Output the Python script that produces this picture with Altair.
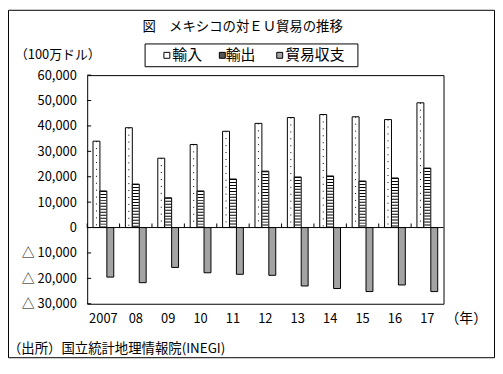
import altair as alt
import pandas as pd

# ---- data ----
years = ["2007", "08", "09", "10", "11", "12", "13", "14", "15", "16", "17"]
series = ["輸入", "輸出", "貿易収支"]
imports = [34000, 39300, 27300, 32700, 37900, 41000, 43300, 44500, 43600, 42500, 49100]
exports = [14400, 17100, 11700, 14400, 19100, 22200, 19900, 20300, 18300, 19500, 23400]
balance = [-19500, -21700, -15700, -17800, -18400, -18800, -23000, -24000, -25200, -22600, -25200]
y_ticks = [-30000, -20000, -10000, 0, 10000, 20000, 30000, 40000, 50000, 60000]

title_text = "図　メキシコの対ＥＵ貿易の推移"
unit_text = "（100万ドル）"
year_unit = "（年）"
source_text = "（出所）国立統計地理情報院(INEGI)"

rows = []
for i, yr in enumerate(years):
    for s, vals in zip(series, [imports, exports, balance]):
        rows.append({"year": yr, "series": s, "value": vals[i]})
df = pd.DataFrame(rows)

FONT = "Noto Sans CJK JP"
W, H = 360, 231

xaxis = alt.Axis(title=None, labelAngle=0, domain=False, ticks=False, labelPadding=9,
                 labelFontSize=13, labelFont=FONT, labelColor="black")
xscale = alt.Scale(domain=years, paddingInner=0, paddingOuter=0)
xenc = alt.X("year:N", scale=xscale, axis=xaxis)
xo = alt.XOffset("series:N", scale=alt.Scale(domain=series, paddingInner=0, paddingOuter=0.84))

yaxis = alt.Axis(title=None, values=y_ticks, ticks=False, domain=False, grid=False,
                 labelPadding=11, labelFontSize=13, labelFont=FONT, labelColor="black",
                 labelExpr="datum.value < 0 ? '△ ' + format(-datum.value, ',') : format(datum.value, ',')")
yscale = alt.Scale(domain=[-30000, 60000], nice=False, zero=False)
yenc = alt.Y("value:Q", scale=yscale, axis=yaxis)

bars = alt.Chart(df).mark_bar(stroke="black", strokeWidth=1).encode(
    x=xenc, xOffset=xo, y=yenc, y2=alt.datum(0),
    fill=alt.Fill("series:N", scale=alt.Scale(domain=series, range=["white", "white", "#a3a3a3"]), legend=None),
)

dots = alt.Chart(df[df.series == series[0]]).mark_rule(
    color="black", strokeWidth=1, strokeDash=[1, 6], strokeCap="butt"
).encode(x=xenc, xOffset=xo, y=yenc, y2=alt.datum(0))

stripes = alt.Chart(df[df.series == series[1]]).mark_rule(
    color="black", strokeWidth=6, strokeDash=[1, 2], strokeCap="butt"
).encode(x=xenc, xOffset=xo, y=yenc, y2=alt.datum(0))

zero_line = alt.Chart(pd.DataFrame({"value": [0]})).mark_rule(color="black", strokeWidth=1).encode(y=yenc)

ytick_marks = alt.Chart(pd.DataFrame({"value": y_ticks})).mark_rule(color="black").encode(
    y=yenc, x=alt.value(0), x2=alt.value(4))

cat_ticks = alt.Chart(pd.DataFrame({"year": years, "value": [0] * len(years), "top": [1600] * len(years)})).mark_rule(
    color="black").encode(
    x=alt.X("year:N", scale=xscale, axis=xaxis, bandPosition=0), y=yenc, y2=alt.Y2("top:Q"))

def label(text, x, y, size, align="left"):
    return alt.Chart(pd.DataFrame({"t": [text]})).mark_text(
        font=FONT, fontSize=size, align=align, baseline="middle", color="black"
    ).encode(x=alt.value(x), y=alt.value(y), text="t:N")

border = alt.Chart(pd.DataFrame({"t": [0]})).mark_rect(fillOpacity=0, stroke="black", strokeWidth=1).encode(
    x=alt.value(-79.5), x2=alt.value(411.5), y=alt.value(-65.5), y2=alt.value(285.5))

legend_box = alt.Chart(pd.DataFrame({"t": [0]})).mark_rect(fillOpacity=0, stroke="black", strokeWidth=1).encode(
    x=alt.value(58.5), x2=alt.value(273.5), y=alt.value(-31.5), y2=alt.value(-8.5))

def swatch(x, fill):
    return alt.Chart(pd.DataFrame({"t": [0]})).mark_rect(fill=fill, stroke="black", strokeWidth=1).encode(
        x=alt.value(x), x2=alt.value(x + 6), y=alt.value(-23), y2=alt.value(-17))

layers = [
    border, legend_box,
    swatch(77.5, "white"), swatch(133.5, "#555555"), swatch(191.5, "#a3a3a3"),
    label(series[0], 86, -20, 15), label(series[1], 140, -20, 15), label(series[2], 200, -20, 15),
    label(title_text, 157, -49, 13.5, "center"),
    label(unit_text, -73, -20, 13),
    label(year_unit, 362, 246, 14),
    label(source_text, -80, 277, 13.5),
    bars, dots, stripes, zero_line, ytick_marks, cat_ticks,
]

chart = alt.layer(*layers).properties(
    width=W, height=H,
    padding={"left": 80, "top": 66, "right": 52, "bottom": 55},
    autosize=alt.AutoSizeParams(type="none"),
).configure(background="white").configure_view(stroke="black", strokeWidth=1)

chart.save("out.html", embed_options={"renderer": "svg", "actions": False})
